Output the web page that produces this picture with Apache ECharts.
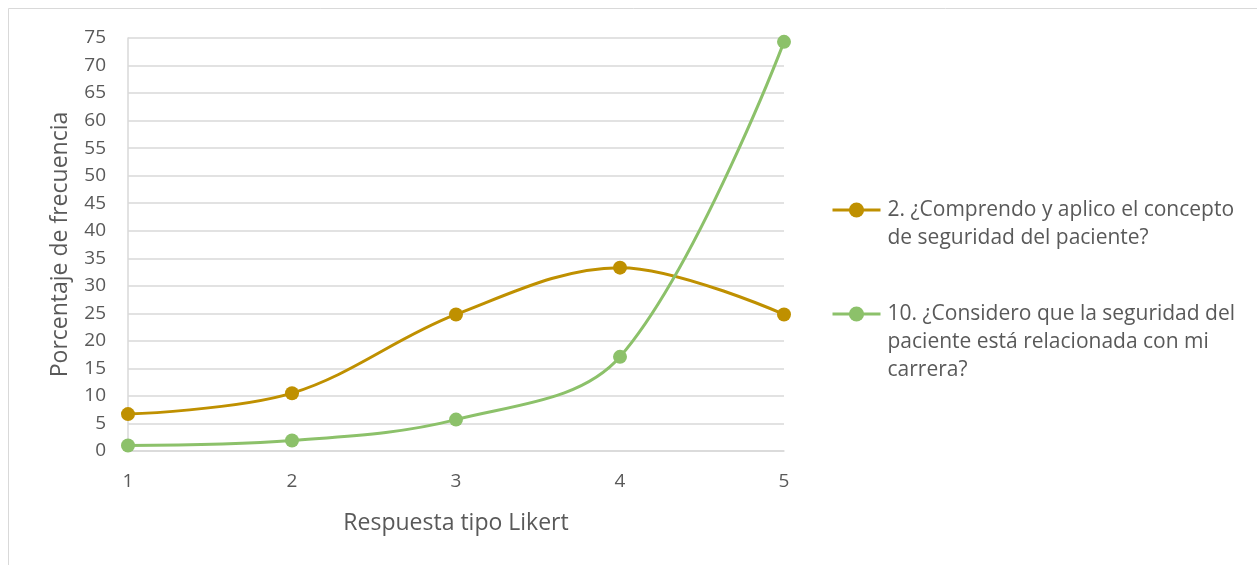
<!DOCTYPE html>
<html>
<head>
<meta charset="utf-8">
<script src="https://cdn.jsdelivr.net/npm/echarts@6/dist/echarts.min.js"></script>
<style>
  html, body { margin: 0; padding: 0; background: #fff; }
  #chart { width: 1257px; height: 565px; }
</style>
</head>
<body>
<div id="chart"></div>
<script>
// Likert response categories (x axis)
const categories = ['1', '2', '3', '4', '5'];
// Series names
const nameComprendo = '2. ¿Comprendo y aplico el concepto\nde seguridad del paciente?';
const nameConsidero = '10. ¿Considero que la seguridad del\npaciente está relacionada con mi\ncarrera?';
// Percentage of frequency per response
const valuesComprendo = [6.7, 10.5, 24.8, 33.3, 24.8];
const valuesConsidero = [1.0, 1.9, 5.7, 17.1, 74.3];

const FONT = '"Open Sans", "Noto Sans", sans-serif';
const TEXT = '#595959';
const GRID = '#d9d9d9';
const GOLD = '#BF9000';
const GREEN = '#8CC16A';
const LINE_H = 28;

const chart = echarts.init(document.getElementById('chart'), null, { renderer: 'canvas' });

// Legend entry whose icon sits beside the first line of a multi-line label:
// blank lines are prepended so the first text line lands on the icon's centre.
function legendFor(name, firstLineY) {
  const lines = name.split('\n').length;
  const total = 2 * lines - 1;
  return {
    data: [name],
    orient: 'vertical',
    left: 826,
    top: firstLineY - (total * LINE_H) / 2,
    itemWidth: 48,
    itemHeight: 19,
    itemGap: 0,
    selectedMode: false,
    lineStyle: { width: 3 },
    formatter: n => '\n'.repeat(lines - 1) + n,
    textStyle: { fontFamily: FONT, fontSize: 21, color: TEXT, lineHeight: LINE_H, padding: [0, 0, 0, 2] }
  };
}

chart.setOption({
  backgroundColor: '#fff',
  animation: false,
  graphic: [{
    type: 'rect',
    shape: { x: 8.5, y: 8.5, width: 1260, height: 570 },
    style: { fill: 'none', stroke: GRID, lineWidth: 1 },
    silent: true
  }],
  grid: { left: 128, right: 473, top: 38, bottom: 114, containLabel: false },
  legend: [
    legendFor(nameComprendo, 205),
    legendFor(nameConsidero, 309)
  ],
  xAxis: {
    type: 'category',
    data: categories,
    boundaryGap: false,
    name: 'Respuesta tipo Likert',
    nameLocation: 'middle',
    nameGap: 61,
    nameTextStyle: { fontFamily: FONT, fontSize: 23, color: TEXT },
    axisLine: { show: true, lineStyle: { color: GRID, width: 1.5 } },
    axisTick: { show: false },
    axisLabel: { fontFamily: FONT, fontSize: 19, color: TEXT, margin: 21 },
    splitLine: { show: false }
  },
  yAxis: {
    type: 'value',
    min: 0, max: 75, interval: 5,
    name: 'Porcentaje de frecuencia',
    nameLocation: 'middle',
    nameGap: 56,
    nameTextStyle: { fontFamily: FONT, fontSize: 23, color: TEXT },
    axisLine: { show: true, lineStyle: { color: GRID, width: 1.5 } },
    axisTick: { show: false },
    axisLabel: { fontFamily: FONT, fontSize: 19, color: TEXT, margin: 22 },
    splitLine: { show: true, lineStyle: { color: GRID, width: 1.5 } }
  },
  series: [
    {
      name: nameComprendo,
      type: 'line',
      data: valuesComprendo,
      smooth: 0.35,
      symbol: 'circle',
      symbolSize: 14,
      lineStyle: { color: GOLD, width: 3 },
      itemStyle: { color: GOLD },
      z: 3
    },
    {
      name: nameConsidero,
      type: 'line',
      data: valuesConsidero,
      smooth: 0.35,
      symbol: 'circle',
      symbolSize: 14,
      lineStyle: { color: GREEN, width: 3 },
      itemStyle: { color: GREEN },
      z: 4
    }
  ]
});
</script>
</body>
</html>
